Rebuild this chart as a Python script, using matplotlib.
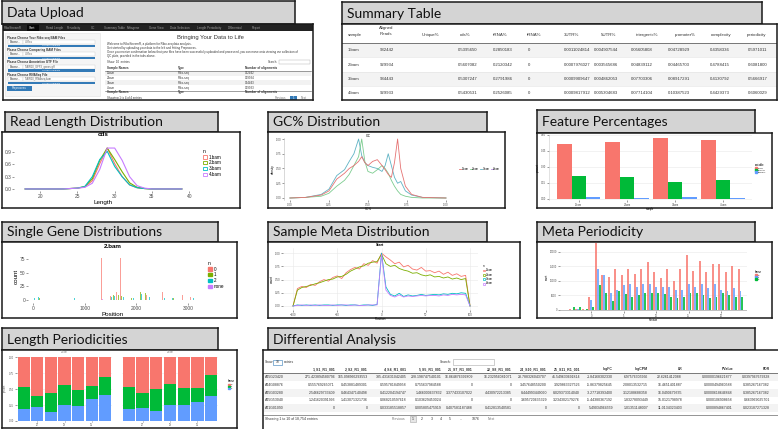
import matplotlib.pyplot as plt
from matplotlib.patches import Rectangle, Patch
from matplotlib.lines import Line2D

plt.rcParams['font.family'] = ['Liberation Sans', 'DejaVu Sans']

W, H = 778, 429

# ---------------- data ----------------
# Data Upload screen
du_nav = ['RiboStreamR', 'Start', 'Read Length', 'Periodicity', 'GC', 'Summary Table',
          'Metagene', 'Gene View', 'Data Selection', 'Length Periodicity', 'Differential', 'Report']
du_inputs = ['Please Choose Your Ribo-seq BAM Files', 'Please Choose Comparing BAM Files',
             'Please Choose Annotation GTF File', 'Please Choose RNASeq File']
du_files = ['4 files', '4 files', 'TAIR10_GFF3_genes.gff', 'TAIR10_RNAseq.bam']
du_names = ['1.bam', '2.bam', '3.bam', '4.bam']
du_types = ['Ribo-seq', 'Ribo-seq', 'Ribo-seq', 'Ribo-seq']
du_aligns = ['932442', '929934', '934443', '929933']

# Summary Table
sum_headers = ['sample', 'Aligned\nReads', 'Unique%', 'cds%', 'rRNA%', 'tRNA%', '3UTR%', '5UTR%',
               'intergenic%', 'promoter%', 'complexity', 'periodicity']
sum_samples = ['1.bam', '2.bam', '3.bam', '4.bam']
sum_reads = ['932442', '929934', '934443', '929933']
sum_unique = ['', '', '', '']
sum_cds = ['0.5395650', '0.5607082', '0.5307247', '0.5430531']
sum_rrna = ['0.2850183', '0.2120342', '0.2791986', '0.2526085']
sum_trna = ['0', '0', '0', '0']
sum_utr3 = ['0.0011024814', '0.0007976027', '0.0009909647', '0.0009817912']
sum_utr5 = ['0.004907544', '0.003565686', '0.004862053', '0.005304683']
sum_intergenic = ['0.05605808', '0.04839112', '0.07703306', '0.07714104']
sum_promoter = ['0.04728929', '0.04465703', '0.08917291', '0.10387523']
sum_complexity = ['0.4358336', '0.4788415', '0.4130792', '0.4429373']
sum_periodicity = ['0.5971011', '0.6081800', '0.5666917', '0.6060029']

# Read Length Distribution (cds)
rl_lengths = list(range(18, 40))
rl_1 = [0, 0, 0, 0, 0, 0, 0.01, 0.02, 0.05, 0.20, 0.62, 1.00, 0.62, 0.30, 0.10, 0.03, 0.01, 0, 0, 0, 0, 0]
rl_2 = [0, 0, 0, 0, 0, 0, 0.01, 0.02, 0.06, 0.25, 0.70, 1.00, 0.72, 0.42, 0.15, 0.04, 0.01, 0, 0, 0, 0, 0]
rl_3 = [0, 0, 0, 0, 0, 0, 0.01, 0.02, 0.06, 0.30, 0.72, 0.92, 0.55, 0.30, 0.10, 0.03, 0.01, 0, 0, 0, 0, 0]
rl_4 = [0, 0, 0, 0, 0, 0, 0.01, 0.02, 0.04, 0.14, 0.48, 1.00, 1.00, 0.70, 0.30, 0.08, 0.02, 0, 0, 0, 0, 0]
rl_labels = ['1.bam', '2.bam', '3.bam', '4.bam']

# GC% Distribution
gc_x = [0.00, 0.10, 0.20, 0.25, 0.30, 0.35, 0.38, 0.41, 0.44, 0.46, 0.48, 0.50, 0.53,
        0.56, 0.59, 0.61, 0.63, 0.65, 0.67, 0.69, 0.71, 0.74, 0.78, 0.85, 1.00]
gc_blue = [0, 0.01, 0.06, 0.15, 0.38, 0.48, 0.62, 0.75, 1.0, 0.72, 0.6, 0.55, 0.52,
           0.5, 0.45, 0.55, 0.75, 0.55, 0.35, 0.25, 0.28, 0.12, 0.05, 0.01, 0]
gc_green = [0, 0.01, 0.03, 0.08, 0.2, 0.3, 0.4, 0.55, 0.7, 1.0, 0.62, 0.45, 0.42,
            0.48, 0.55, 0.5, 0.42, 0.3, 0.2, 0.12, 0.06, 0.03, 0.01, 0, 0]
gc_red = [0, 0.01, 0.05, 0.12, 0.32, 0.42, 0.5, 0.55, 0.62, 0.7, 0.6, 0.55, 0.62,
          0.65, 0.55, 0.48, 0.4, 0.35, 0.6, 1.0, 0.5, 0.2, 0.06, 0.01, 0]

# Feature Percentages
feat_samples = ['1.bam', '2.bam', '3.bam', '4.bam']
feat_cds = [0.516, 0.534, 0.572, 0.553]
feat_rrna = [0.216, 0.206, 0.155, 0.178]
feat_utr = [0.014, 0.013, 0.015, 0.012]

# Single Gene Distributions (2.bam), counts per frame
sg_pos_0 = [620, 1330, 1500, 1620, 1690, 2150, 2200, 2500, 2900, 3050]
sg_cnt_0 = [6, 76, 8, 14, 76, 22, 10, 15, 10, 5]
sg_pos_1 = [60, 130, 950, 1560, 1650, 1720, 1900, 2080, 2130, 2180, 2400, 2720, 2960]
sg_cnt_1 = [4, 3, 5, 9, 10, 7, 4, 15, 20, 12, 3, 4, 6]
sg_pos_2 = [30, 100, 600, 800, 1200, 1520, 1580, 1750, 1950, 2100, 2250, 2550, 2700, 3000, 3100]
sg_cnt_2 = [3, 5, 3, 3, 2, 6, 8, 5, 3, 11, 6, 3, 3, 7, 3]
sg_pos_none = [1340, 1700]
sg_cnt_none = [2, 2]
sg_labels = ['0', '1', '2', 'none']

# Sample Meta Distribution (Start)
md_pos = list(range(-100, 101, 5))
md_1 = [0.00, 0.33, 0.37, 0.35, 0.41, 0.39, 0.46, 0.50, 0.47, 0.54, 0.57, 0.52, 0.63, 0.69,
        0.73, 0.70, 0.80, 0.77, 0.86, 0.81, 1.00, 0.93, 0.87, 0.80, 0.83, 0.74, 0.77, 0.70,
        0.68, 0.73, 0.66, 0.67, 0.63, 0.66, 0.60, 0.64, 0.58, 0.61, 0.56, 0.58, 0.00]
md_2 = [0.00, 0.30, 0.35, 0.37, 0.39, 0.42, 0.44, 0.47, 0.50, 0.51, 0.55, 0.56, 0.60, 0.66,
        0.70, 0.74, 0.76, 0.81, 0.83, 0.84, 0.98, 0.80, 0.75, 0.77, 0.71, 0.68, 0.66, 0.62,
        0.63, 0.59, 0.57, 0.59, 0.55, 0.56, 0.53, 0.55, 0.51, 0.53, 0.50, 0.52, 0.00]
md_3 = [0.00, 0.02, 0.01, 0.02, 0.01, 0.02, 0.01, 0.02, 0.02, 0.01, 0.02, 0.02, 0.01, 0.02,
        0.02, 0.01, 0.02, 0.02, 0.01, 0.03, 1.00, 0.36, 0.22, 0.19, 0.24, 0.18, 0.21, 0.19,
        0.20, 0.22, 0.20, 0.21, 0.22, 0.21, 0.23, 0.22, 0.24, 0.23, 0.25, 0.24, 0.00]
md_4 = [0.00, 0.01, 0.02, 0.01, 0.02, 0.01, 0.02, 0.01, 0.01, 0.02, 0.01, 0.02, 0.02, 0.01,
        0.02, 0.01, 0.01, 0.02, 0.02, 0.02, 0.97, 0.30, 0.20, 0.17, 0.21, 0.17, 0.19, 0.18,
        0.19, 0.20, 0.19, 0.20, 0.20, 0.19, 0.21, 0.20, 0.22, 0.21, 0.22, 0.21, 0.00]
md_labels = ['1.bam', '2.bam', '3.bam', '4.bam']

# Meta Periodicity
mp_pos = list(range(-3, 24))
mp_red = [200, 300, 200, 4500, 23000, 12000, 11500, 14000, 12000, 14000, 12500, 14000, 16500, 13000,
          11000, 14000, 10000, 14000, 19000, 13500, 17000, 13000, 16000, 16000, 13000, 15000, 14000]
mp_blue = [100, 200, 100, 3500, 14000, 12000, 6000, 7000, 8500, 9000, 8000, 9000, 9000, 8000,
           8000, 8000, 7000, 7000, 9000, 8000, 9000, 7500, 9000, 7000, 6500, 7500, 6500]
mp_green = [900, 1000, 300, 900, 8500, 6000, 3000, 6500, 5500, 4500, 5000, 6000, 6000, 6000,
            5500, 4500, 4000, 4500, 6000, 6000, 5000, 4000, 4500, 6000, 5000, 4500, 4500]

# Length Periodicities (two samples, frame fractions)
lp_lengths = [26, 27, 28, 29, 30, 31, 32]
lp1_blue = [0.19, 0.22, 0.135, 0.245, 0.24, 0.35, 0.405]
lp1_green = [0.34, 0.17, 0.31, 0.31, 0.245, 0.20, 0.28]
lp1_red = [0.47, 0.61, 0.555, 0.445, 0.515, 0.45, 0.315]
lp2_blue = [0.18, 0.21, 0.155, 0.255, 0.255, 0.30, 0.385]
lp2_green = [0.35, 0.22, 0.34, 0.32, 0.26, 0.215, 0.33]
lp2_red = [0.47, 0.57, 0.505, 0.425, 0.485, 0.485, 0.285]

# Differential Analysis
de_headers = ['', '1_S1_R1_001', '2_S2_R1_001', '4_S4_R1_001', '5_S5_R1_001', '21_S7_R1_001',
              '22_S8_R1_001', '24_S10_R1_001', '25_S11_R1_001', 'logFC', 'logCPM', 'LR', 'PValue', 'FDR']
de_genes = ['AT5G23420', 'AT4G08876', 'AT5G03280', 'AT5G53040', 'AT1G01090']
de_s1 = ['271.423894580796', '0.555769265071', '2.546629733409', '1.241620391993', '0']
de_s2 = ['165.098966293553', '0.453881489301', '0.464347140498', '1.413071321736', '0']
de_s4 = ['335.431631042405', '0.595781849958', '0.412204194747', '0.068210597618', '0.033185518857']
de_s5 = ['228.198747540101', '0.755637984588', '1.466000637832', '0.103629453024', '0.005805475919']
de_s7 = ['16.864876392809', '0', '3.377433107022', '0', '0.407581187488']
de_s8 = ['16.232956081071', '0', '4.430972213385', '0', '0.412813540581']
de_s10 = ['28.788326043707', '3.457648550200', '8.444993449090', '3.695720635329', '0']
de_s11 = ['41.549633691814', '3.929863327526', '8.029373314040', '3.234302179276', '0']
de_logfc = ['-1.84168302330', '-5.86379825645', '-3.27718393400', '-5.44380367192', '5.49034964559']
de_logcpm = ['6.97576305966', '2.08013532715', '3.12188688358', '1.83278093449', '1.01351148007']
de_lr = ['22.6261412088', '16.4651401887', '16.0490679335', '15.0121798978', '11.0134323403']
de_pvalue = ['0.00000196621877', '0.0000494960588', '0.0000618646848', '0.000106908658', '0.000894867401']
de_fdr = ['0.0397967679328', '0.385267167382', '0.385267167382', '0.663969025701', '0.023187271328']
de_pages = ['1', '2', '3', '4', '5', '...', '1876']

GG4 = ['#F8766D', '#7CAE00', '#00BFC4', '#C77CFF']
GG3 = ['#F8766D', '#00BA38', '#619CFF']
BLUE_BTN = '#337ab7'

fig = plt.figure(figsize=(W / 100, H / 100), dpi=100)
fig.patch.set_facecolor('white')


def px_axes(x0, y0, x1, y1):
    return fig.add_axes([x0 / W, 1 - y1 / H, (x1 - x0) / W, (y1 - y0) / H])


def box(x0, y0, x1, y1, face='white'):
    ax = px_axes(x0, y0, x1, y1)
    ax.set_facecolor(face)
    ax.set_xlim(x0, x1)
    ax.set_ylim(y1, y0)
    ax.set_xticks([])
    ax.set_yticks([])
    for s in ax.spines.values():
        s.set_linewidth(1.1)
        s.set_color('#1a1a1a')
    return ax


def title_box(x0, y0, x1, y1, label):
    ax = box(x0, y0, x1, y1, face='#d4d4d4')
    ax.text(x0 + 5, (y0 + y1) / 2 + 0.5, label, fontsize=10, family='Lato',
            color='#111111', va='center', ha='left')
    return ax


def gg_axes(x0, y0, x1, y1, size=3.5, grid=None):
    ax = px_axes(x0, y0, x1, y1)
    ax.set_facecolor('white')
    for s in ax.spines.values():
        s.set_visible(False)
    ax.tick_params(labelsize=size, length=1.2, width=0.4, pad=0.8, colors='#4d4d4d')
    if grid:
        ax.grid(axis=grid, color='#e8e8e8', lw=0.4)
        ax.set_axisbelow(True)
    return ax


def small_legend(ax, handles, labels, title, x, y, size=3.3):
    leg = ax.legend(handles, labels, title=title, loc='upper left', bbox_to_anchor=(x, y),
                    frameon=False, fontsize=size, title_fontsize=size + 0.3, handlelength=0.9,
                    handleheight=0.7, borderpad=0, borderaxespad=0, labelspacing=0.15,
                    handletextpad=0.4)
    leg._legend_box.align = 'left'
    return leg


# ---------------- Data Upload ----------------
title_box(2, 1, 295, 24, 'Data Upload')
ax = box(3, 24, 313, 100)
ax.add_patch(Rectangle((3, 24), 310, 7, color='#222222', lw=0))
ax.add_patch(Rectangle((27, 24), 12, 7, color='#080808', lw=0))
nav_x = [4, 29, 46, 67, 91, 104, 127, 149, 170, 197, 228, 252]
for x, t in zip(nav_x, du_nav):
    ax.text(x, 27.6, t, fontsize=2.2, color='#ffffff' if t == 'Start' else '#9d9d9d', va='center')
ax.add_patch(Rectangle((5, 33), 95, 63, facecolor='#f5f5f5', edgecolor='#e3e3e3', lw=0.4))
for i, (lab, fname) in enumerate(zip(du_inputs, du_files)):
    y = 37.5 + i * 12.4
    ax.text(7, y, lab, fontsize=2.2, weight='bold', color='#333333', va='center')
    ax.add_patch(Rectangle((8, y + 2.3), 15, 4, facecolor='white', edgecolor='#cccccc', lw=0.3))
    ax.text(15.5, y + 4.3, 'Browse...', fontsize=1.9, ha='center', va='center', color='#333333')
    ax.add_patch(Rectangle((23, y + 2.3), 72, 4, facecolor='white', edgecolor='#cccccc', lw=0.3))
    ax.text(25, y + 4.3, fname, fontsize=1.9, va='center', color='#555555')
    ax.add_patch(Rectangle((8, y + 7), 87, 2.6, facecolor=BLUE_BTN, lw=0))
    ax.text(51.5, y + 8.3, 'Upload complete', fontsize=1.7, color='white', ha='center', va='center')
ax.add_patch(Rectangle((7, 86), 25, 5, facecolor=BLUE_BTN, lw=0))
ax.text(19.5, 88.5, 'Preprocess', fontsize=2.1, color='white', ha='center', va='center')
ax.text(210, 38, 'Bringing Your Data to Life', fontsize=4.2, ha='center', va='center', color='#333333')
intro = ['Welcome to RiboStreamR, a platform for Ribo-seq data analysis.',
         'Get started by uploading your data to the left and hitting Preprocess.',
         'Once you receive confirmation below that your files have been successfully uploaded and '
         'processed, you can move onto viewing our collection of',
         'QC plots, provided in the tabs above.']
for k, line in enumerate(intro):
    ax.text(107, 44 + k * 3.6 + (1 if k > 1 else 0), line, fontsize=2.1, va='center', color='#333333')
ax.text(107, 62, 'Show  10  entries', fontsize=2.1, va='center', color='#333333')
ax.text(268, 62, 'Search:', fontsize=2.1, va='center', color='#333333')
ax.add_patch(Rectangle((279, 60), 31, 4, facecolor='white', edgecolor='#aaaaaa', lw=0.3))
col_x = [107, 178, 245]
for cx, t in zip(col_x, ['Sample Names', 'Type', 'Number of alignments']):
    ax.text(cx, 68, t, fontsize=2.2, weight='bold', va='center', color='#333333')
    ax.text(cx, 92.5, t, fontsize=2.2, weight='bold', va='center', color='#333333')
ax.plot([105, 311], [70.5, 70.5], color='#555555', lw=0.4)
ax.plot([105, 311], [90.5, 90.5], color='#555555', lw=0.4)
for r, cols in enumerate(zip(du_names, du_types, du_aligns)):
    y = 73 + r * 4.9
    if r % 2 == 0:
        ax.add_patch(Rectangle((105, y - 2.4), 206, 4.9, facecolor='#f2f2f2', lw=0))
    for cx, t in zip(col_x, cols):
        ax.text(cx, y, t, fontsize=2.1, va='center', color='#333333')
ax.text(107, 98, 'Showing 1 to 4 of 4 entries', fontsize=2.1, va='center', color='#333333')
ax.text(275, 98, 'Previous', fontsize=2.1, va='center', color='#777777')
ax.add_patch(Rectangle((290, 95.7), 7, 4.6, facecolor=BLUE_BTN, lw=0))
ax.text(293.5, 98, '1', fontsize=2.1, va='center', ha='center', color='white')
ax.text(301, 98, 'Next', fontsize=2.1, va='center', color='#777777')

# ---------------- Summary Table ----------------
title_box(342, 2, 762, 24, 'Summary Table')
ax = box(342, 24, 777, 100)
head_x = [355, 386, 430, 465, 500, 534, 572, 609, 647, 685, 721, 757]
val_x = [348, 380, 420, 458, 493, 528, 564, 594, 631, 668, 710, 748]
for hx, h in zip(head_x, sum_headers):
    ax.text(hx, 31 if '\n' in h else 35, h, fontsize=3.2, ha='center', va='center',
            color='#333333', linespacing=1.9)
ax.plot([342, 777], [42.5, 42.5], color='#444444', lw=0.5)
sum_columns = [sum_samples, sum_reads, sum_unique, sum_cds, sum_rrna, sum_trna, sum_utr3,
               sum_utr5, sum_intergenic, sum_promoter, sum_complexity, sum_periodicity]
for r in range(len(sum_samples)):
    y = 50 + r * 14.5
    if r % 2 == 0:
        ax.add_patch(Rectangle((343, y - 7.2), 433, 14.5, facecolor='#f3f3f3', lw=0))
    ax.plot([342, 777], [y + 7.2, y + 7.2], color='#e2e2e2', lw=0.4)
    for vx, col in zip(val_x, sum_columns):
        ax.text(vx, y, col[r], fontsize=3.1, va='center', color='#333333')

# ---------------- Read Length Distribution ----------------
title_box(5, 112, 218, 132, 'Read Length Distribution')
box(2, 132, 240, 208)
ax = gg_axes(14, 146, 193, 191)
for vals, c in zip([rl_1, rl_2, rl_3, rl_4], GG4):
    ax.plot(rl_lengths, vals, color=c, lw=0.8)
ax.set_xlim(16.5, 40.5)
ax.set_ylim(-0.05, 1.05)
ax.set_xticks([20, 25, 30, 35, 40])
ax.set_yticks([0, 0.3, 0.6, 0.9])
ax.set_yticklabels(['0.0', '0.3', '0.6', '0.9'])
ax.set_xlabel('Length', fontsize=4.5, labelpad=0.8)
ax.text(0.5, 1.25, 'cds', transform=ax.transAxes, ha='center', va='center', fontsize=4.5, weight='bold')
small_legend(ax, [Patch(facecolor='white', edgecolor=c, lw=0.6) for c in GG4], rl_labels, 'n',
             (203 - 14) / 179, 1 - (149 - 146) / 45)

# ---------------- GC% Distribution ----------------
title_box(268, 112, 487, 132, 'GC% Distribution')
box(268, 132, 505, 208)
ax = gg_axes(284, 138, 453, 200, size=2.0)
ax.spines['left'].set_visible(True)
ax.spines['left'].set_color('#bbbbbb')
ax.spines['left'].set_linewidth(0.4)
for vals, c in zip([gc_blue, gc_green, gc_red], ['#5fb3c4', '#7ccc8f', '#e57373']):
    ax.plot(gc_x, vals, color=c, lw=0.6)
ax.set_xlim(-0.038, 1.045)
ax.set_ylim(-0.034, 1.017)
ax.set_xticks([0, 0.25, 0.5, 0.75, 1.0])
ax.set_xticklabels(['0.00', '0.25', '0.50', '0.75', '1.00'])
ax.set_yticks([0, 0.25, 0.5, 0.75, 1.0])
ax.set_yticklabels(['0.00', '0.25', '0.50', '0.75', '1.00'])
ax.set_xlabel('GC%', fontsize=2.2, labelpad=0.5)
ax.set_ylabel('density', fontsize=2.2, labelpad=0.8)
ax.text(0.5, 1.04, 'GC', transform=ax.transAxes, ha='center', va='center', fontsize=2.4)
leg = ax.legend([Line2D([], [], color=c, lw=0.6) for c in ['#e57373', '#7ccc8f', '#5fb3c4', '#b48ee0']],
                ['1.bam', '2.bam', '3.bam', '4.bam'], loc='center left', ncol=4,
                bbox_to_anchor=((458 - 284) / 169, 0.5), frameon=False, fontsize=1.8,
                handlelength=0.8, columnspacing=0.5, handletextpad=0.2, borderaxespad=0)

# ---------------- Feature Percentages ----------------
title_box(537, 110, 755, 133, 'Feature Percentages')
box(537, 133, 772, 208)
ax = gg_axes(549, 135, 752, 200, size=1.9, grid='y')
ax.spines['left'].set_visible(True)
ax.spines['left'].set_color('#cccccc')
ax.spines['left'].set_linewidth(0.4)
xs = list(range(len(feat_samples)))
ax.bar([x - 0.3 for x in xs], feat_cds, width=0.3, color=GG3[0], lw=0)
ax.bar(xs, feat_rrna, width=0.3, color=GG3[1], lw=0)
ax.bar([x + 0.3 for x in xs], feat_utr, width=0.3, color=GG3[2], lw=0)
ax.set_xlim(-0.62, 3.6)
ax.set_ylim(-0.01, 0.6)
ax.set_xticks(xs)
ax.set_xticklabels(feat_samples)
ax.set_yticks([0, 0.15, 0.3, 0.45, 0.6])
ax.set_xlabel('sample', fontsize=1.9, labelpad=0.3)
ax.set_ylabel('percent', fontsize=1.9, labelpad=0.5)
small_legend(ax, [Patch(color=c) for c in GG3], ['cds%', 'rRNA%', '3UTR%'], 'variable',
             (755 - 549) / 203, 1 - (163 - 135) / 65, size=1.7)

# ---------------- Single Gene Distributions ----------------
title_box(2, 222, 218, 242, 'Single Gene Distributions')
box(2, 242, 237, 318)
ax = gg_axes(28, 250, 198, 303)
for pos, cnt, c in zip([sg_pos_0, sg_pos_1, sg_pos_2, sg_pos_none],
                       [sg_cnt_0, sg_cnt_1, sg_cnt_2, sg_cnt_none], GG4):
    ax.bar(pos, cnt, width=14, color=c, alpha=0.7, lw=0)
ax.set_xlim(-97, 3194)
ax.set_ylim(-5.5, 91.4)
ax.set_xticks([0, 1000, 2000, 3000])
ax.set_yticks([0, 25, 50, 75])
ax.set_xlabel('Position', fontsize=4.5, labelpad=0.8)
ax.set_ylabel('count', fontsize=4.5, labelpad=0.8)
ax.text(0.5, 1.07, '2.bam', transform=ax.transAxes, ha='center', va='center', fontsize=4.5, weight='bold')
small_legend(ax, [Patch(color=c) for c in GG4], sg_labels, 'n', (208 - 28) / 170, 1 - (261 - 250) / 53)

# ---------------- Sample Meta Distribution ----------------
title_box(268, 222, 487, 242, 'Sample Meta Distribution')
box(268, 242, 520, 318)
ax = gg_axes(283, 248, 478, 310, size=2.0, grid='both')
for vals, c in zip([md_1, md_2, md_3, md_4], GG4):
    ax.plot(md_pos, vals, color=c, lw=0.6)
ax.set_xlim(-111.3, 109)
ax.set_ylim(-0.076, 1.098)
ax.set_xticks([-100, -50, 0, 50, 100])
ax.set_yticks([0, 0.25, 0.5, 0.75, 1.0])
ax.set_yticklabels(['0.00', '0.25', '0.50', '0.75', '1.00'])
ax.set_xlabel('Position', fontsize=2.3, labelpad=0.3)
ax.set_ylabel('count', fontsize=2.3, labelpad=0.5)
ax.text(0.5, 1.045, 'Start', transform=ax.transAxes, ha='center', va='center', fontsize=2.6, weight='bold')
small_legend(ax, [Patch(facecolor='white', edgecolor=c, lw=0.5) for c in GG4], md_labels, 'n',
             (483 - 283) / 195, 1 - (264 - 248) / 62, size=1.8)

# ---------------- Meta Periodicity ----------------
title_box(537, 222, 755, 242, 'Meta Periodicity')
box(537, 242, 772, 318)
ax = gg_axes(560, 243, 747, 311, size=1.8, grid='y')
ax.bar([p - 0.3 for p in mp_pos], mp_red, width=0.3, color=GG3[0], alpha=0.8, lw=0)
ax.bar(mp_pos, mp_blue, width=0.3, color=GG3[2], alpha=0.8, lw=0)
ax.bar([p + 0.3 for p in mp_pos], mp_green, width=0.3, color=GG3[1], alpha=0.85, lw=0)
ax.axhline(0, color='#999999', lw=0.4)
ax.set_xlim(-4.8, 24)
ax.set_ylim(-345, 23100)
ax.set_xticks([0, 5, 10, 15, 20])
ax.set_yticks([0, 5000, 10000, 15000, 20000])
ax.set_xlabel('Position', fontsize=1.8, labelpad=0.2)
ax.set_ylabel('count', fontsize=1.8, labelpad=0.5)
small_legend(ax, [Patch(color=c) for c in [GG3[0], GG3[2], GG3[1]]], ['0', '1', '2'], 'frame',
             (755 - 560) / 187, 1 - (270 - 243) / 68, size=1.7)

# ---------------- Length Periodicities ----------------
title_box(2, 328, 218, 350, 'Length Periodicities')
box(2, 350, 237, 428)
for (x0, x1), blue, green, red, name in [((17, 112), lp1_blue, lp1_green, lp1_red, '1.bam'),
                                         ((122, 218), lp2_blue, lp2_green, lp2_red, '2.bam')]:
    ax = gg_axes(x0, 354, x1, 421, size=1.8, grid='y')
    ax.tick_params(axis='x', pad=0.3, length=0.8)
    ax.bar(lp_lengths, blue, width=0.9, color=GG3[2], lw=0)
    ax.bar(lp_lengths, green, width=0.9, bottom=blue, color=GG3[1], lw=0)
    ax.bar(lp_lengths, red, width=0.9, bottom=[b + g for b, g in zip(blue, green)], color=GG3[0], lw=0)
    ax.set_xlim(25.5, 32.5)
    ax.set_ylim(0, 1.047)
    ax.set_xticks([27, 29, 31])
    ax.set_yticks([0, 0.25, 0.5, 0.75, 1.0])
    if x0 > 100:
        ax.set_yticklabels([])
        ax.tick_params(axis='y', length=0)
    ax.text(0.5, 1.03, name, transform=ax.transAxes, ha='center', va='center', fontsize=1.8, color='#888888')
ax.text((5 - 122) / 96, 0.5, 'percent', transform=ax.transAxes, rotation=90, ha='center', va='center',
        fontsize=1.8, color='#555555')
small_legend(ax, [Patch(color=c) for c in GG3], ['0', '1', '2'], 'frame', 1.1, 0.62, size=1.7)

# ---------------- Differential Analysis ----------------
title_box(268, 328, 755, 350, 'Differential Analysis')
ax = box(263, 350, 779, 430)
ax.text(265, 362, 'Show', fontsize=2.4, va='center', color='#333333')
ax.add_patch(Rectangle((273, 359.5), 9, 5, facecolor='white', edgecolor=BLUE_BTN, lw=0.4))
ax.text(277.5, 362, '10', fontsize=2.4, va='center', ha='center', color='#333333')
ax.text(284, 362, 'entries', fontsize=2.4, va='center', color='#333333')
ax.text(440, 362, 'Search:', fontsize=2.4, va='center', color='#333333')
ax.add_patch(Rectangle((453, 358.5), 41, 6, facecolor='white', edgecolor='#aaaaaa', lw=0.4))
de_right = [285, 335, 368, 407, 442, 473, 512, 547, 580, 613, 648, 682, 733, 770]
for rx, h in zip(de_right, de_headers):
    ax.text(rx, 369, h, fontsize=2.5, ha='right', va='center', color='#333333', weight='bold')
ax.plot([263, 779], [373, 373], color='#444444', lw=0.5)
de_columns = [de_s1, de_s2, de_s4, de_s5, de_s7, de_s8, de_s10, de_s11,
              de_logfc, de_logcpm, de_lr, de_pvalue, de_fdr]
for r, gene in enumerate(de_genes):
    y = 377.5 + r * 7.6
    if r % 2 == 0:
        ax.add_patch(Rectangle((264, y - 3.8), 514, 7.6, facecolor='#f3f3f3', lw=0))
    ax.text(265, y, gene, fontsize=2.5, va='center', color='#333333')
    for rx, col in zip(de_right[1:], de_columns):
        ax.text(rx, y, col[r], fontsize=2.5, ha='right', va='center', color='#333333')
ax.plot([263, 779], [415, 415], color='#444444', lw=0.4)
ax.text(265, 419, 'Showing 1 to 10 of 18,754 entries', fontsize=2.5, va='center', color='#333333')
ax.text(392, 419, 'Previous', fontsize=2.5, va='center', color='#777777')
px = 410
for p in de_pages:
    wdt = 4 + 2.2 * len(p)
    if p == '1':
        ax.add_patch(Rectangle((px, 416), wdt, 6, facecolor='#e6e6e6', edgecolor='#aaaaaa', lw=0.4))
    ax.text(px + wdt / 2, 419, p, fontsize=2.5, ha='center', va='center', color='#333333')
    px += wdt + 3
ax.text(px + 2, 419, 'Next', fontsize=2.5, va='center', color='#777777')

fig.savefig('out.png', dpi=100)
